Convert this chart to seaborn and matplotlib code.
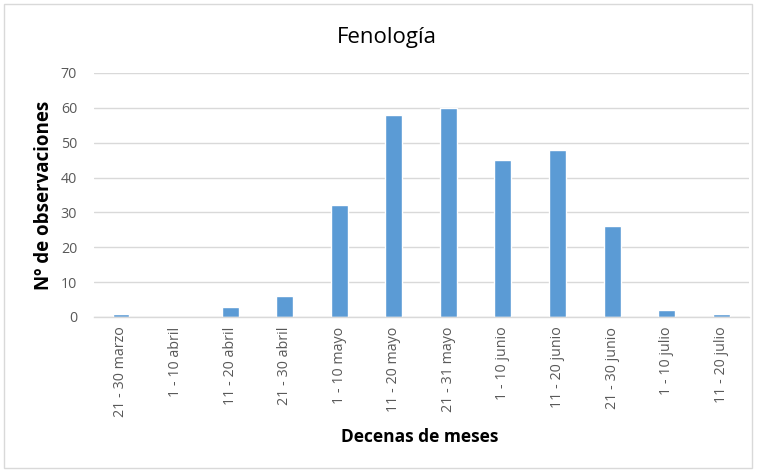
import matplotlib
matplotlib.use("Agg")
import matplotlib.pyplot as plt
import seaborn as sns
import pandas as pd
from matplotlib.patches import Rectangle

categories = ["21 - 30 marzo", "1 - 10 abril", "11 - 20 abril", "21 - 30 abril",
              "1 - 10 mayo", "11 - 20 mayo", "21 - 31 mayo", "1 - 10 junio",
              "11 - 20 junio", "21 - 30 junio", "1 - 10 julio", "11 - 20 julio"]
values = [1, 0, 3, 6, 32, 58, 60, 45, 48, 26, 2, 1]
yticks = [0, 10, 20, 30, 40, 50, 60, 70]

sns.set_theme(style="white")
plt.rcParams['font.family'] = ['Open Sans', 'DejaVu Sans']

df = pd.DataFrame({"cat": categories, "val": values})

fig = plt.figure(figsize=(7.6, 4.72), dpi=100)
ax = fig.add_axes([93.7/760, 1-317/472, (748.5-93.7)/760, (317-73)/472])

sns.barplot(data=df, x="cat", y="val", color="#5B9BD5", width=0.31,
            saturation=1, ax=ax, order=categories)

ax.set_ylim(0, 70)
ax.set_yticks(yticks)
ax.set_xlim(-0.5, len(categories)-0.5)
ax.yaxis.grid(True, color="#D9D9D9", linewidth=1)
ax.set_axisbelow(True)
for s in ["top", "right", "left"]:
    ax.spines[s].set_visible(False)
ax.spines["bottom"].set_color("#D9D9D9")
ax.spines["bottom"].set_linewidth(1)
ax.tick_params(axis="both", length=0, colors="#595959", labelsize=10.3)
ax.tick_params(axis="y", pad=12)
ax.tick_params(axis="x", pad=7)
ax.set_xticks(range(len(categories)))
ax.set_xticklabels(categories, rotation=90)

ax.set_xlabel("")
ax.set_ylabel("Nº de observaciones", fontsize=13.5, fontweight="bold", color="black", labelpad=5)
fig.text(420/760, 1-437/472, "Decenas de meses", ha="center", va="center",
         fontsize=12.5, fontweight="bold", color="black")
fig.text(387/760, 1-37/472, "Fenología", ha="center", va="center", fontsize=16, color="black")

fig.patches.append(Rectangle((4/760, 4/472), (752-4)/760, (468-4)/472, transform=fig.transFigure,
                             fill=False, edgecolor="#D9D9D9", linewidth=1))

fig.savefig("out.png", dpi=100, facecolor="white")
